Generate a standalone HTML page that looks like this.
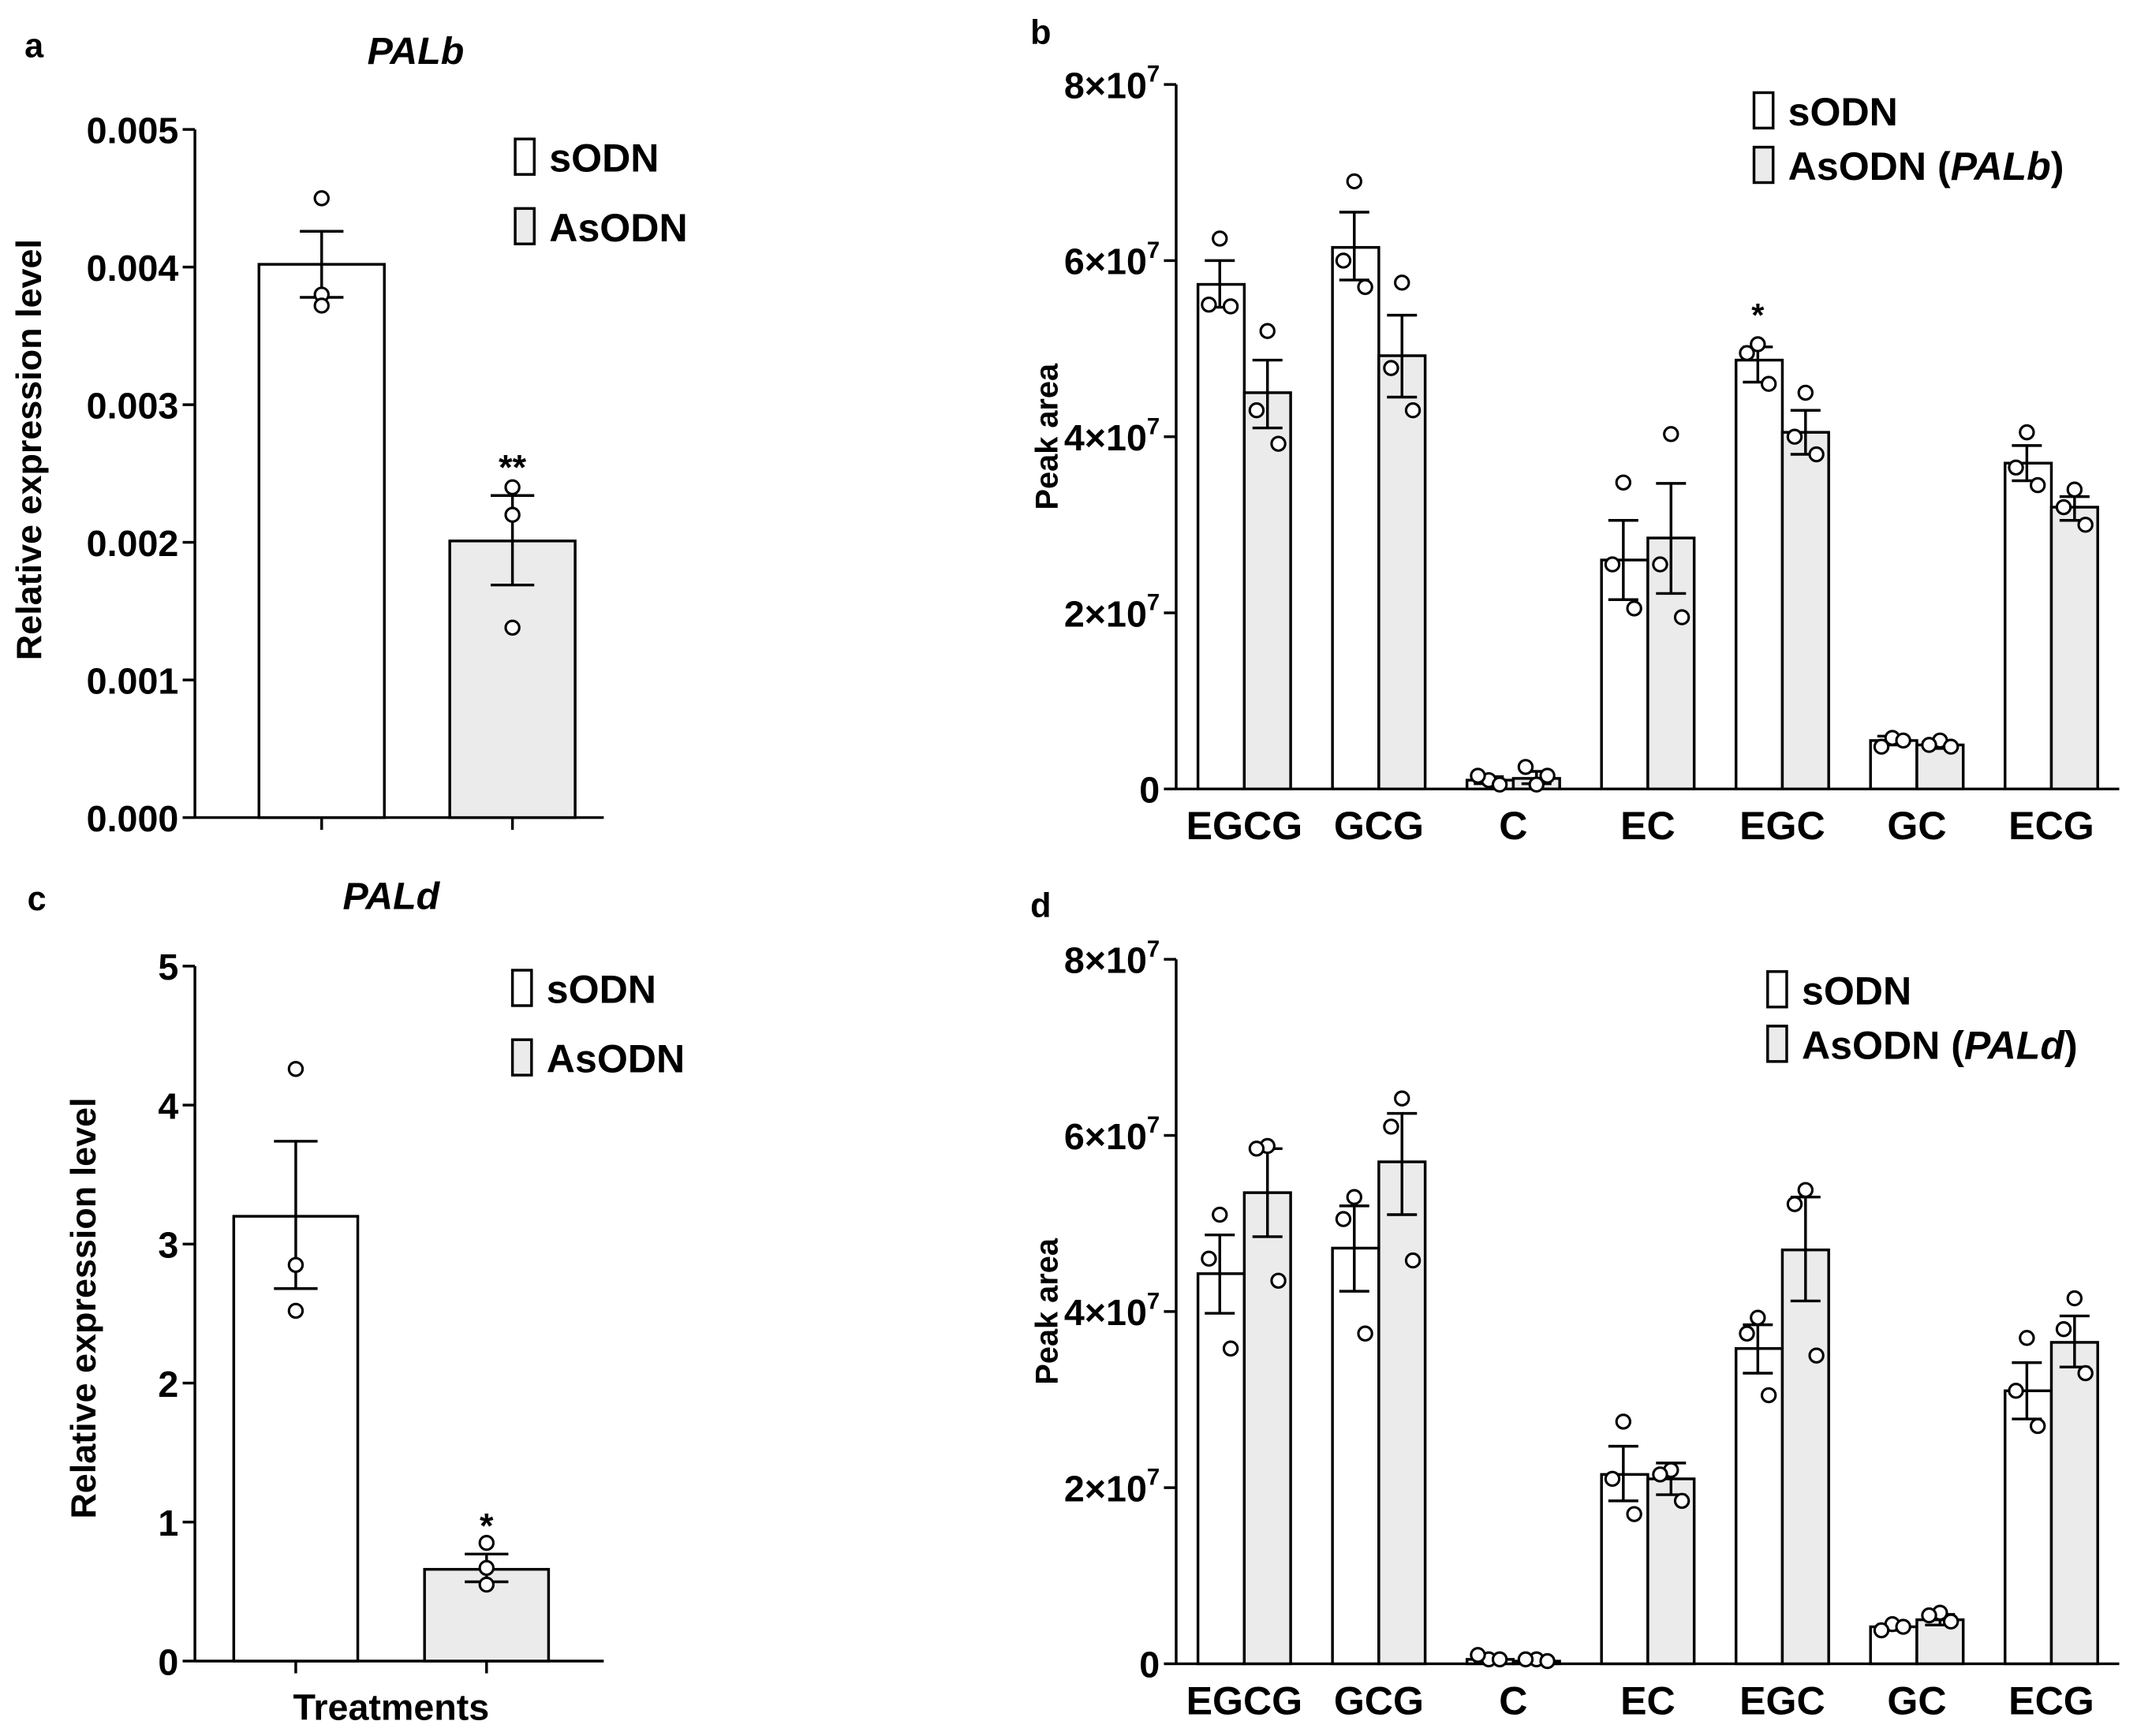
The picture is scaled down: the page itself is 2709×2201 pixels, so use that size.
<!DOCTYPE html>
<html><head><meta charset="utf-8">
<style>
html,body{margin:0;padding:0;background:#fff;}
svg{display:block;}
text{font-family:"Liberation Sans Narrow","Liberation Sans",sans-serif;font-weight:bold;fill:#000;}
</style></head>
<body>
<svg id="fig" width="2709" height="2201" viewBox="0 0 1568 1274" xmlns="http://www.w3.org/2000/svg">
<g id="root"></g>
</svg>
<script>
// ---- Panel a data (PALb relative expression) ----
const aGroups = ["sODN", "AsODN"];
const aMeans = [0.00402, 0.00201];
const aErrHi = [0.00426, 0.00234];
const aErrLo = [0.00378, 0.00169];
const aPoints = [[0.0045, 0.0038, 0.00372], [0.0024, 0.0022, 0.00138]];
const aTicks = ["0.000", "0.001", "0.002", "0.003", "0.004", "0.005"];
const aTickVals = [0, 0.001, 0.002, 0.003, 0.004, 0.005];
const aSig = ["", "**"];

// ---- Panel c data (PALd relative expression) ----
const cGroups = ["sODN", "AsODN"];
const cMeans = [3.2, 0.66];
const cErrHi = [3.74, 0.77];
const cErrLo = [2.68, 0.57];
const cPoints = [[4.26, 2.85, 2.52], [0.85, 0.67, 0.55]];
const cTicks = ["0", "1", "2", "3", "4", "5"];
const cTickVals = [0, 1, 2, 3, 4, 5];
const cSig = ["", "*"];

// ---- Panel b / d categories ----
const catNames = ["EGCG", "GCG", "C", "EC", "EGC", "GC", "ECG"];
const peakTickVals = [0, 2, 4, 6, 8]; // x10^7

// ---- Panel b data (units of 1e7) ----
const bSMean = [5.73, 6.15, 0.1, 2.6, 4.87, 0.55, 3.7];
const bSHi = [6.0, 6.55, 0.14, 3.05, 5.02, 0.6, 3.9];
const bSLo = [5.47, 5.78, 0.06, 2.15, 4.62, 0.5, 3.5];
const bSPts = [[6.25, 5.5, 5.48], [6.9, 6.0, 5.7], [0.1, 0.15, 0.05], [3.48, 2.55, 2.05], [5.05, 4.95, 4.6], [0.58, 0.48, 0.55], [4.05, 3.65, 3.45]];
const bAMean = [4.5, 4.92, 0.12, 2.85, 4.05, 0.5, 3.2];
const bAHi = [4.87, 5.38, 0.2, 3.47, 4.3, 0.54, 3.32];
const bALo = [4.1, 4.45, 0.06, 2.22, 3.8, 0.46, 3.05];
const bAPts = [[5.2, 4.3, 3.92], [5.75, 4.78, 4.3], [0.05, 0.25, 0.15], [4.03, 2.55, 1.95], [4.5, 4.0, 3.8], [0.55, 0.5, 0.48], [3.4, 3.2, 3.0]];
const bSig = ["", "", "", "", "*", "", ""];

// ---- Panel d data (units of 1e7) ----
const dSMean = [4.43, 4.72, 0.05, 2.15, 3.58, 0.42, 3.1];
const dSHi = [4.87, 5.2, 0.08, 2.47, 3.85, 0.45, 3.42];
const dSLo = [3.98, 4.23, 0.03, 1.85, 3.3, 0.38, 2.78];
const dSPts = [[5.1, 4.6, 3.58], [5.3, 5.05, 3.75], [0.05, 0.1, 0.05], [2.75, 2.1, 1.7], [3.93, 3.75, 3.05], [0.45, 0.38, 0.42], [3.7, 3.1, 2.7]];
const dAMean = [5.35, 5.7, 0.03, 2.1, 4.7, 0.5, 3.65];
const dAHi = [5.85, 6.25, 0.05, 2.28, 5.3, 0.56, 3.95];
const dALo = [4.85, 5.1, 0.02, 1.92, 4.12, 0.44, 3.37];
const dAPts = [[5.88, 5.85, 4.35], [6.42, 6.1, 4.58], [0.05, 0.05, 0.03], [2.2, 2.15, 1.85], [5.38, 5.22, 3.5], [0.58, 0.55, 0.48], [4.15, 3.8, 3.3]];

const NS = "http://www.w3.org/2000/svg";
const root = document.getElementById("root");
function mk(tag, attrs, parent) {
  const e = document.createElementNS(NS, tag);
  for (const k in attrs) e.setAttribute(k, attrs[k]);
  (parent || root).appendChild(e);
  return e;
}
function txt(x, y, s, size, anchor, parent, extra) {
  const t = mk("text", Object.assign({x: x, y: y, "font-size": size, "text-anchor": anchor || "start"}, extra || {}), parent);
  t.textContent = s;
  return t;
}
const jitter = [0, -8, 8];
const LW = 2;

function errBar(g, x, yHi, yLo, yMean, half) {
  mk("line", {x1: x, x2: x, y1: yHi, y2: yLo, stroke: "#000", "stroke-width": LW}, g);
  mk("line", {x1: x - half, x2: x + half, y1: yHi, y2: yHi, stroke: "#000", "stroke-width": LW}, g);
  mk("line", {x1: x - half, x2: x + half, y1: yLo, y2: yLo, stroke: "#000", "stroke-width": LW}, g);
}
function dot(g, x, y, r) {
  const c = mk("circle", {cx: x, cy: y, r: r || 5, fill: "#fff", stroke: "#000", "stroke-width": 1.8}, g);
  
  
}

// ---------- expression panels (a, c) ----------
function exprPanel(opt) {
  const g = mk("g", {});
  
  
  const y = v => opt.y0 - (v / opt.vmax) * (opt.y0 - opt.ytop);
  mk("line", {x1: opt.ax, x2: opt.ax, y1: opt.ytop, y2: opt.y0, stroke: "#000", "stroke-width": LW}, g);
  mk("line", {x1: opt.ax, x2: opt.xend, y1: opt.y0, y2: opt.y0, stroke: "#000", "stroke-width": LW}, g);
  opt.tickVals.forEach((v, i) => {
    mk("line", {x1: opt.ax - 9, x2: opt.ax, y1: y(v), y2: y(v), stroke: "#000", "stroke-width": LW}, g);
    const t = txt(opt.ax - 12, y(v) + 10, opt.ticks[i], 27, "end", g);
    
    
  });
  opt.means.forEach((m, i) => {
    const cx = opt.centers[i];
    mk("line", {x1: cx, x2: cx, y1: opt.y0, y2: opt.y0 + 9, stroke: "#000", "stroke-width": LW}, g);
    const r = mk("rect", {x: cx - opt.bw / 2, y: y(m), width: opt.bw, height: opt.y0 - y(m), fill: i ? "#ebebeb" : "#fff", stroke: "#000", "stroke-width": LW}, g);
    
    
    errBar(g, cx, y(opt.hi[i]), y(opt.lo[i]), y(m), 16);
    opt.pts[i].forEach((p, j) => dot(g, cx, y(p), 5));
    if (opt.sig[i]) txt(cx, y(opt.hi[i]) - 12, opt.sig[i], 26, "middle", g);
  });
  const ti = txt(opt.titleX, opt.titleY, opt.title, 28, "middle", g, {"font-style": "italic"});
  
  
  const pl = txt(opt.letterX, opt.letterY, opt.letter, 25, "start", g);
  
  
  const yl = txt(0, 0, "Relative  expression level", 26, "middle", g, {transform: "translate(" + opt.ylx + "," + opt.yly + ") rotate(-90)"});
  
  
  opt.groups.forEach((name, i) => {
    const lg = mk("g", {}, g);
    
    
    mk("rect", {x: opt.legX, y: opt.legY + i * 51, width: 14, height: 26, fill: i ? "#ebebeb" : "#fff", stroke: "#000", "stroke-width": LW}, lg);
    txt(opt.legX + 25, opt.legY + 24 + i * 51, name, 29, "start", lg);
  });
  if (opt.xlabel) {
    const xl = txt(opt.xlabelX, opt.xlabelY, opt.xlabel, 27, "middle", g);
    
    
  }
}

exprPanel({name: "panel-a", ax: 143, xend: 443, y0: 600, ytop: 95, vmax: 0.005, tickVals: aTickVals, ticks: aTicks,
  means: aMeans, hi: aErrHi, lo: aErrLo, pts: aPoints, sig: aSig, groups: aGroups, centers: [236, 376], bw: 92,
  title: "PALb", titleX: 305, titleY: 47, letter: "a", letterX: 18, letterY: 42, ylx: 30, yly: 330,
  legX: 378, legY: 102});
exprPanel({name: "panel-c", ax: 143, xend: 443, y0: 1219, ytop: 709, vmax: 5, tickVals: cTickVals, ticks: cTicks,
  means: cMeans, hi: cErrHi, lo: cErrLo, pts: cPoints, sig: cSig, groups: cGroups, centers: [217, 357], bw: 91,
  title: "PALd", titleX: 287, titleY: 667, letter: "c", letterX: 20, letterY: 668, ylx: 70, yly: 960,
  legX: 376, legY: 712, xlabel: "Treatments", xlabelX: 287, xlabelY: 1262});

// ---------- peak area panels (b, d) ----------
const catCenters0 = 913, catStep = 98.7;
function peakPanel(opt) {
  const g = mk("g", {});
  
  
  const y = v => opt.y0 - (v / 8) * (opt.y0 - opt.ytop);
  const ax = 863;
  mk("line", {x1: ax, x2: ax, y1: opt.ytop, y2: opt.y0, stroke: "#000", "stroke-width": LW}, g);
  mk("line", {x1: ax, x2: 1555, y1: opt.y0, y2: opt.y0, stroke: "#000", "stroke-width": LW}, g);
  peakTickVals.forEach(v => {
    mk("line", {x1: ax - 9, x2: ax, y1: y(v), y2: y(v), stroke: "#000", "stroke-width": LW}, g);
    let t;
    if (v === 0) t = txt(ax - 12, y(v) + 10, "0", 27, "end", g);
    else {
      t = mk("text", {x: ax - 12, y: y(v) + 10, "font-size": 27, "text-anchor": "end"}, g);
      const a = mk("tspan", {}, t); a.textContent = v + "×10";
      const s = mk("tspan", {dy: -12, "font-size": 17}, t); s.textContent = "7";
    }
    
    
  });
  const bw = 34;
  catNames.forEach((c, i) => {
    const cx = catCenters0 + i * catStep;
    const xs = cx - bw / 2 - 1, xa = cx + bw / 2;
    const bs = mk("rect", {x: cx - bw, y: y(opt.sm[i]), width: bw, height: opt.y0 - y(opt.sm[i]), fill: "#fff", stroke: "#000", "stroke-width": LW}, g);
    
    
    const ba = mk("rect", {x: cx, y: y(opt.am[i]), width: bw, height: opt.y0 - y(opt.am[i]), fill: "#ebebeb", stroke: "#000", "stroke-width": LW}, g);
    
    
    errBar(g, xs, y(opt.sh[i]), y(opt.sl[i]), 0, 11);
    errBar(g, xa, y(opt.ah[i]), y(opt.al[i]), 0, 11);
    opt.sp[i].forEach((p, j) => dot(g, xs + jitter[j], y(p), 5));
    opt.ap[i].forEach((p, j) => dot(g, xa + jitter[j], y(p), 5));
    if (opt.sig && opt.sig[i]) txt(xs, y(opt.sh[i]) - 15, opt.sig[i], 24, "middle", g);
    const cl = txt(cx, opt.y0 + 37, c, 29, "middle", g);
    
    
  });
  const yl = txt(0, 0, "Peak area", 23, "middle", g, {transform: "translate(" + 776 + "," + ((opt.y0 + opt.ytop) / 2) + ") rotate(-90)"});
  
  
  const pl = txt(756, opt.letterY, opt.letter, 25, "start", g);
  
  
  ["sODN", "AsODN"].forEach((name, i) => {
    const lg = mk("g", {}, g);
    
    
    mk("rect", {x: opt.legX, y: opt.legY + i * 40, width: 14, height: 26, fill: i ? "#ebebeb" : "#fff", stroke: "#000", "stroke-width": LW}, lg);
    const t = mk("text", {x: opt.legX + 25, y: opt.legY + 24 + i * 40, "font-size": 29}, lg);
    if (i === 0) t.textContent = name;
    else {
      const a = mk("tspan", {}, t); a.textContent = "AsODN (";
      const b = mk("tspan", {"font-style": "italic"}, t); b.textContent = opt.gene;
      const c = mk("tspan", {}, t); c.textContent = ")";
    }
  });
}
peakPanel({name: "panel-b", y0: 579, ytop: 62, sm: bSMean, sh: bSHi, sl: bSLo, sp: bSPts, am: bAMean, ah: bAHi, al: bALo, ap: bAPts,
  sig: bSig, letter: "b", letterY: 32, legX: 1287, legY: 68, gene: "PALb"});
peakPanel({name: "panel-d", y0: 1221, ytop: 704, sm: dSMean, sh: dSHi, sl: dSLo, sp: dSPts, am: dAMean, ah: dAHi, al: dALo, ap: dAPts,
  letter: "d", letterY: 673, legX: 1297, legY: 713, gene: "PALd"});
</script>
</body></html>
